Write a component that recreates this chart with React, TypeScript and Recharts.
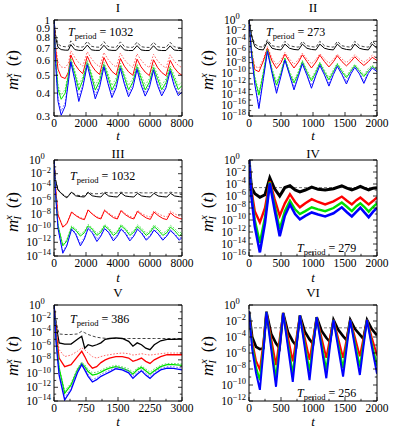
import React from 'react';
import { LineChart, Line, XAxis, YAxis, ReferenceLine } from 'recharts';

const FONT = '"Liberation Serif", "DejaVu Serif", "Times New Roman", serif';

// ---------------- Panel I (T_period = 1032) ----------------
const timeI = [0, 100, 250, 450, 700, 900, 1050, 1300, 1550, 1800, 2080, 2330, 2580, 2850, 3120, 3370, 3620, 3890, 4150, 4400, 4660, 4930, 5190, 5440, 5700, 5960, 6220, 6470, 6730, 7000, 7260, 7510, 7770, 8000];
const blackSolidI = [1.0, 0.8, 0.71, 0.69, 0.685, 0.685, 0.735, 0.69, 0.683, 0.683, 0.73, 0.688, 0.683, 0.683, 0.728, 0.688, 0.683, 0.683, 0.726, 0.687, 0.682, 0.682, 0.725, 0.687, 0.682, 0.682, 0.724, 0.686, 0.682, 0.682, 0.723, 0.686, 0.682, 0.682];
const blackDashI = [1.0, 0.83, 0.74, 0.72, 0.715, 0.715, 0.77, 0.722, 0.713, 0.712, 0.765, 0.72, 0.712, 0.711, 0.762, 0.718, 0.711, 0.71, 0.76, 0.717, 0.71, 0.71, 0.758, 0.716, 0.71, 0.709, 0.757, 0.716, 0.709, 0.709, 0.756, 0.715, 0.709, 0.709];
const redSolidI = [1.0, 0.7, 0.54, 0.49, 0.48, 0.52, 0.645, 0.575, 0.535, 0.51, 0.635, 0.57, 0.53, 0.505, 0.625, 0.565, 0.525, 0.502, 0.617, 0.56, 0.522, 0.5, 0.612, 0.556, 0.52, 0.498, 0.607, 0.552, 0.518, 0.497, 0.603, 0.55, 0.516, 0.5];
const redDotI = [1.0, 0.73, 0.59, 0.555, 0.55, 0.58, 0.68, 0.625, 0.585, 0.56, 0.672, 0.618, 0.58, 0.556, 0.665, 0.612, 0.576, 0.553, 0.66, 0.608, 0.573, 0.551, 0.655, 0.605, 0.57, 0.55, 0.65, 0.6, 0.568, 0.548, 0.646, 0.598, 0.566, 0.55];
const greenSolidI = [1.0, 0.62, 0.42, 0.37, 0.4, 0.5, 0.6, 0.51, 0.415, 0.47, 0.585, 0.5, 0.415, 0.465, 0.572, 0.492, 0.415, 0.462, 0.563, 0.487, 0.416, 0.46, 0.556, 0.483, 0.416, 0.458, 0.55, 0.48, 0.417, 0.457, 0.546, 0.478, 0.418, 0.44];
const greenDotI = [1.0, 0.64, 0.44, 0.39, 0.42, 0.52, 0.62, 0.53, 0.44, 0.49, 0.603, 0.52, 0.44, 0.487, 0.59, 0.513, 0.44, 0.484, 0.582, 0.508, 0.44, 0.482, 0.575, 0.505, 0.44, 0.48, 0.57, 0.502, 0.44, 0.479, 0.565, 0.5, 0.44, 0.46];
const blueSolidI = [1.0, 0.58, 0.36, 0.303, 0.34, 0.46, 0.59, 0.47, 0.36, 0.43, 0.57, 0.46, 0.372, 0.43, 0.555, 0.452, 0.378, 0.428, 0.545, 0.447, 0.382, 0.428, 0.538, 0.443, 0.385, 0.428, 0.532, 0.44, 0.386, 0.427, 0.527, 0.438, 0.387, 0.405];
const blueDotI = [1.0, 0.6, 0.38, 0.32, 0.355, 0.475, 0.6, 0.485, 0.38, 0.445, 0.58, 0.475, 0.39, 0.445, 0.566, 0.467, 0.395, 0.444, 0.556, 0.462, 0.398, 0.443, 0.549, 0.458, 0.4, 0.442, 0.543, 0.455, 0.4, 0.441, 0.538, 0.453, 0.401, 0.42];

// ---------------- Panel II (T_period = 273) ----------------
const timeII = [0, 40, 90, 155, 225, 288, 360, 430, 500, 561, 633, 703, 773, 834, 906, 976, 1046, 1107, 1179, 1249, 1319, 1380, 1452, 1522, 1592, 1653, 1725, 1795, 1865, 1926, 2000];
const blackSolidII = [1, 1e-3, 1e-5, 3e-6, 2.5e-6, 8e-5, 5e-6, 3e-6, 2.5e-6, 3e-5, 5e-6, 3e-6, 2.5e-6, 3e-5, 5e-6, 3e-6, 2.5e-6, 3e-5, 5e-6, 3e-6, 2.5e-6, 3e-5, 5e-6, 3e-6, 2.5e-6, 3e-5, 5e-6, 3e-6, 2.5e-6, 3e-5, 5e-6];
const blackDashII = [1, 2e-3, 3e-5, 1e-5, 8e-6, 2e-4, 1.5e-5, 1e-5, 8e-6, 1e-4, 1.5e-5, 1e-5, 8e-6, 1e-4, 1.5e-5, 1e-5, 8e-6, 1e-4, 1.5e-5, 1e-5, 8e-6, 1e-4, 1.5e-5, 1e-5, 8e-6, 1e-4, 1.5e-5, 1e-5, 8e-6, 1e-4, 1.5e-5];
const redSolidII = [1, 1e-6, 5e-10, 2e-10, 2e-8, 5e-6, 2e-8, 8e-10, 1e-8, 4e-7, 1.6e-8, 1e-9, 1.3e-8, 3e-7, 1.6e-8, 1e-9, 1.3e-8, 2.5e-7, 1.6e-8, 1.6e-9, 1.5e-8, 2e-7, 1.6e-8, 2.5e-9, 1.6e-8, 1.3e-7, 1.6e-8, 3e-9, 1.6e-8, 1e-7, 2.5e-8];
const redDotII = [1, 3e-6, 2e-9, 1e-9, 5e-8, 1e-5, 6e-8, 4e-9, 3e-8, 8e-7, 5e-8, 5e-9, 4e-8, 6e-7, 5e-8, 6e-9, 4e-8, 5e-7, 5e-8, 8e-9, 4e-8, 4e-7, 5e-8, 1e-8, 5e-8, 3e-7, 5e-8, 1.2e-8, 5e-8, 2.5e-7, 8e-8];
const greenSolidII = [1, 1e-6, 1e-11, 8e-15, 1e-10, 2.5e-6, 3e-10, 6e-13, 1e-10, 6e-8, 1e-10, 1.6e-12, 1e-10, 1.6e-8, 1.6e-10, 4e-12, 1.6e-10, 8e-9, 1.6e-10, 6e-12, 2e-10, 5e-9, 2e-10, 1.6e-11, 2.5e-10, 3e-9, 2.5e-10, 2.5e-11, 3e-10, 2e-9, 4e-10];
const greenDotII = [1, 3e-6, 3e-11, 2.5e-14, 2.5e-10, 4e-6, 8e-10, 2.5e-12, 2.5e-10, 1e-7, 2.5e-10, 5e-12, 2.5e-10, 2.5e-8, 4e-10, 1e-11, 4e-10, 1.3e-8, 4e-10, 1.6e-11, 5e-10, 8e-9, 5e-10, 3e-11, 6e-10, 5e-9, 6e-10, 5e-11, 8e-10, 3e-9, 1e-9];
const blueSolidII = [1, 3e-7, 1e-12, 2.5e-17, 1e-11, 1.3e-6, 1e-10, 1.8e-14, 3e-11, 3e-8, 5e-11, 8e-14, 3e-11, 6e-9, 4e-11, 1.6e-13, 4e-11, 3e-9, 5e-11, 4e-13, 6e-11, 2e-9, 6e-11, 1e-12, 8e-11, 1.3e-9, 8e-11, 1.3e-12, 1e-10, 1e-9, 2e-10];
const blueDotII = [1, 6e-7, 3e-12, 8e-17, 3e-11, 2e-6, 2e-10, 6e-14, 8e-11, 5e-8, 1e-10, 2.5e-13, 8e-11, 1e-8, 1e-10, 5e-13, 1e-10, 5e-9, 1.3e-10, 1e-12, 1.5e-10, 3e-9, 1.5e-10, 2.5e-12, 2e-10, 2e-9, 2e-10, 3e-12, 2.5e-10, 1.6e-9, 4e-10];

// ---------------- Panel III (T_period = 1032) ----------------
const timeIII = [0, 100, 250, 550, 800, 1100, 1350, 1650, 1900, 2130, 2390, 2680, 2930, 3160, 3420, 3710, 3960, 4190, 4450, 4740, 4990, 5220, 5480, 5770, 6020, 6250, 6510, 6800, 7050, 7280, 7540, 7830, 8000];
const blackSolidIII = [1, 1e-3, 4e-5, 8e-6, 3e-6, 2e-5, 6e-6, 4.5e-6, 4e-6, 1.8e-5, 6e-6, 4.5e-6, 4e-6, 1.6e-5, 5.6e-6, 4.5e-6, 4e-6, 1.6e-5, 5.6e-6, 4.5e-6, 4e-6, 1.4e-5, 5.6e-6, 4.5e-6, 4e-6, 1.4e-5, 5.6e-6, 4.5e-6, 4e-6, 1.4e-5, 5.6e-6, 4.5e-6, 4e-6];
const blackDashIII = [1, 1.2e-3, 5e-5, 1e-5, 4e-6, 2.2e-5, 8e-6, 6e-6, 6e-6, 2.2e-5, 1.2e-5, 1.2e-5, 1.3e-5, 2e-5, 1.6e-5, 1.6e-5, 1.6e-5, 2e-5, 1.6e-5, 1.6e-5, 1.6e-5, 2e-5, 1.6e-5, 1.6e-5, 1.6e-5, 2e-5, 1.6e-5, 1.6e-5, 1.6e-5, 2e-5, 1.6e-5, 1.6e-5, 1.6e-5];
const redSolidIII = [1, 1e-4, 1e-8, 1.6e-10, 5e-10, 2.5e-8, 8e-9, 3e-9, 2e-9, 5e-8, 1.3e-8, 4e-9, 2.5e-9, 4.5e-8, 1.3e-8, 4e-9, 2.5e-9, 4e-8, 1.1e-8, 4e-9, 2.5e-9, 3.2e-8, 1e-8, 3.5e-9, 2.2e-9, 2.5e-8, 8e-9, 3e-9, 2e-9, 2e-8, 6e-9, 3e-9, 2.5e-9];
const redDotIII = [1, 1.2e-4, 1.2e-8, 2e-10, 6e-10, 3e-8, 1e-8, 4e-9, 2.5e-9, 6e-8, 1.6e-8, 5e-9, 3.5e-9, 5.5e-8, 1.8e-8, 6e-9, 4e-9, 5e-8, 1.6e-8, 6e-9, 4e-9, 4.5e-8, 1.6e-8, 7e-9, 5e-9, 4e-8, 1.5e-8, 7e-9, 5e-9, 3.5e-8, 1.4e-8, 7e-9, 6e-9];
const greenSolidIII = [1, 1e-5, 3e-10, 3e-13, 1.6e-12, 1.6e-10, 6e-11, 8e-12, 2.5e-11, 2.5e-10, 8e-11, 1e-11, 3e-11, 2.5e-10, 8e-11, 1e-11, 3e-11, 2.5e-10, 8e-11, 1e-11, 3e-11, 2e-10, 6e-11, 1e-11, 3e-11, 2e-10, 6e-11, 1e-11, 2.5e-11, 1.6e-10, 5e-11, 8e-12, 2e-11];
const greenDotIII = [1, 1.2e-5, 4e-10, 4e-13, 2.5e-12, 2.5e-10, 1e-10, 1.6e-11, 4e-11, 4e-10, 1.3e-10, 2e-11, 5e-11, 4e-10, 1.3e-10, 2e-11, 5e-11, 4e-10, 1.3e-10, 2e-11, 5e-11, 3.5e-10, 1.2e-10, 2e-11, 5e-11, 3.5e-10, 1.2e-10, 2e-11, 5e-11, 3e-10, 1e-10, 2e-11, 4e-11];
const blueSolidIII = [1, 1e-5, 1e-10, 2.5e-14, 3e-13, 8e-11, 1.6e-11, 3e-13, 3e-12, 1e-10, 2.5e-11, 1.3e-12, 8e-12, 1e-10, 2.5e-11, 1.6e-12, 8e-12, 8e-11, 2e-11, 1.6e-12, 8e-12, 8e-11, 2e-11, 2e-12, 8e-12, 6e-11, 1.6e-11, 2e-12, 8e-12, 5e-11, 1.3e-11, 2e-12, 5e-12];
const blueDotIII = [1, 1.2e-5, 1.3e-10, 4e-14, 5e-13, 1.2e-10, 2.5e-11, 6e-13, 5e-12, 1.5e-10, 4e-11, 3e-12, 1.3e-11, 1.5e-10, 4e-11, 3e-12, 1.3e-11, 1.3e-10, 3e-11, 3e-12, 1.3e-11, 1.2e-10, 3e-11, 3e-12, 1.2e-11, 1e-10, 2.5e-11, 3e-12, 1.2e-11, 8e-11, 2e-11, 3e-12, 8e-12];

// ---------------- Panel IV (T_period = 279) ----------------
const timeIV = [0, 37, 90, 170, 250, 325, 400, 480, 560, 640, 720, 795, 880, 980, 1080, 1190, 1320, 1450, 1530, 1607, 1680, 1740, 1800, 1870, 1940, 2000];
const blackIV = [1, 3e-5, 2.5e-6, 6e-7, 1.6e-6, 1e-3, 1.6e-5, 1e-6, 2.5e-5, 5e-5, 1e-5, 5e-6, 1e-5, 3e-5, 1.3e-5, 1e-5, 1.6e-5, 5e-5, 2e-5, 1e-5, 2e-5, 4e-5, 2e-5, 1e-5, 2e-5, 2.5e-5];
const redIV = [1, 1e-5, 3e-9, 4e-11, 1e-8, 3e-4, 3e-7, 5e-10, 6e-8, 2e-6, 1e-7, 1.3e-8, 6e-8, 3e-7, 1e-7, 4e-8, 1.3e-7, 8e-7, 1.6e-7, 4e-8, 2e-7, 5.6e-7, 1.6e-7, 4e-8, 1.6e-7, 6e-7];
const greenIV = [1, 3e-6, 1e-10, 1.6e-14, 3e-10, 2e-4, 3e-8, 3e-12, 3e-9, 1.6e-7, 6e-9, 1e-9, 3e-9, 1.3e-8, 6e-9, 3e-9, 1e-8, 8e-8, 1.6e-8, 3e-9, 2e-8, 6e-8, 1.6e-8, 2.5e-9, 1.6e-8, 6e-8];
const blueIV = [1, 1e-6, 1e-11, 4e-16, 3e-11, 1.3e-4, 5e-9, 2e-13, 5e-10, 4e-8, 1e-9, 1.3e-10, 5e-10, 1.8e-9, 8e-10, 4e-10, 1.3e-9, 1.3e-8, 2e-9, 4e-10, 2.5e-9, 1.1e-8, 2e-9, 3e-10, 2.5e-9, 1e-8];
const levelIV = 2.5e-5;

// ---------------- Panel V (T_period = 386) ----------------
const timeV = [0, 50, 120, 250, 400, 550, 650, 720, 800, 900, 1000, 1100, 1200, 1300, 1450, 1600, 1750, 1850, 1950, 2050, 2150, 2250, 2350, 2500, 2650, 2800, 3000];
const blackSolidV = [1, 1e-3, 3e-6, 2e-6, 2e-6, 1e-5, 2.8e-5, 5e-7, 1.6e-6, 1e-6, 1.6e-6, 3e-6, 1e-5, 1.3e-5, 1.6e-5, 1.3e-5, 5e-6, 1e-6, 3e-6, 1.6e-6, 5e-7, 3e-7, 1.6e-6, 6e-6, 1e-5, 1e-5, 1.1e-5];
const blackDashV = [1, 3e-3, 6e-5, 5e-5, 5e-5, 6e-5, 1.5e-4, 9e-5, 5e-5, 3e-5, 2e-5, 1.6e-5, 1.4e-5, 1.3e-5, 1.3e-5, 1.3e-5, 1.3e-5, 1.3e-5, 1.3e-5, 1.3e-5, 1.3e-5, 1.3e-5, 1.3e-5, 1.3e-5, 1.3e-5, 1.3e-5, 1.3e-5];
const redSolidV = [1, 1e-4, 1.8e-8, 1e-9, 2e-9, 3e-8, 1.8e-7, 3e-8, 3e-9, 6e-10, 1e-9, 4e-9, 1e-8, 1.8e-8, 3e-8, 3e-8, 1.8e-8, 6e-9, 1e-8, 1.8e-8, 6e-9, 3e-9, 1e-8, 3e-8, 5.6e-8, 5.6e-8, 5.6e-8];
const redDotV = [1, 3e-4, 3e-7, 3e-8, 5e-8, 1.8e-7, 5.6e-7, 3e-7, 1e-7, 3e-8, 1.8e-8, 3e-8, 4.5e-8, 5.6e-8, 8e-8, 1e-7, 8e-8, 5e-8, 6e-8, 8e-8, 6e-8, 5e-8, 6e-8, 8e-8, 1e-7, 1e-7, 1e-7];
const greenSolidV = [1, 1e-5, 6e-10, 1.3e-13, 2.2e-12, 3.5e-10, 3e-9, 1e-9, 2e-10, 6e-11, 8e-11, 1.6e-10, 3.5e-10, 6e-10, 1e-9, 6e-10, 2.5e-10, 8e-11, 3.5e-10, 8e-10, 2.5e-10, 8e-11, 2.5e-10, 1e-9, 2e-9, 2e-9, 1.6e-9];
const greenDotV = [1, 1.2e-5, 8e-10, 3e-13, 4e-12, 6e-10, 5e-9, 2e-9, 4e-10, 1.3e-10, 1.6e-10, 3e-10, 6e-10, 1e-9, 1.6e-9, 1e-9, 5e-10, 1.6e-10, 6e-10, 1.3e-9, 5e-10, 1.6e-10, 5e-10, 1.6e-9, 3e-9, 3e-9, 2.5e-9];
const blueSolidV = [1, 3e-6, 6e-11, 1.4e-14, 4e-13, 1.3e-10, 2e-9, 3.5e-10, 4e-11, 6e-12, 1.3e-11, 4e-11, 8e-11, 1.6e-10, 5e-10, 3.5e-10, 1.3e-10, 2e-11, 8e-11, 2.5e-10, 6e-11, 2e-11, 8e-11, 3.5e-10, 6e-10, 5.6e-10, 3.5e-10];
const blueDotV = [1, 4e-6, 1e-10, 3e-14, 8e-13, 2.5e-10, 3e-9, 6e-10, 8e-11, 1.3e-11, 2.5e-11, 8e-11, 1.5e-10, 3e-10, 8e-10, 6e-10, 2.5e-10, 4e-11, 1.5e-10, 4e-10, 1.2e-10, 4e-11, 1.5e-10, 6e-10, 1e-9, 1e-9, 6e-10];

// ---------------- Panel VI (T_period = 256) ----------------
const timeVI = [0, 50, 110, 170, 225, 272, 347, 422, 477, 534, 609, 684, 739, 796, 871, 946, 1001, 1058, 1133, 1208, 1263, 1320, 1395, 1470, 1525, 1582, 1657, 1732, 1787, 1844, 1919, 2000];
const blackVI = [0.16, 1e-4, 6e-6, 3e-6, 4e-6, 0.14, 2.5e-4, 1.6e-5, 4e-6, 0.1, 4e-4, 3e-5, 8e-6, 0.05, 5e-4, 5e-5, 1.4e-5, 0.03, 6e-4, 8e-5, 2.5e-5, 0.014, 8e-4, 1.3e-4, 4e-5, 0.014, 1e-3, 2e-4, 6e-5, 0.014, 1e-3, 1.6e-4];
const redVI = [0.16, 3e-5, 1e-7, 8e-9, 2.5e-5, 0.14, 6e-5, 3e-8, 5e-5, 0.1, 1e-4, 9e-8, 6e-5, 0.05, 8e-5, 1.4e-7, 6e-5, 0.03, 8e-5, 2.5e-7, 6e-5, 0.014, 6e-5, 2.5e-7, 5e-5, 0.014, 8e-5, 4e-7, 6e-5, 0.014, 8e-5, 5e-7];
const greenVI = [0.16, 1e-5, 1.6e-8, 4e-10, 6e-6, 0.14, 1e-5, 7e-10, 1e-5, 0.1, 1.6e-5, 2.5e-9, 1.3e-5, 0.05, 1.6e-5, 5e-9, 1.6e-5, 0.03, 1.6e-5, 8e-9, 1.3e-5, 0.014, 1.3e-5, 1.3e-8, 1.3e-5, 0.014, 1.6e-5, 2e-8, 1.6e-5, 0.014, 1.6e-5, 2.5e-8];
const blueVI = [0.16, 3e-6, 3e-9, 2.5e-11, 1.6e-6, 0.14, 3e-6, 6e-11, 2.5e-6, 0.1, 5e-6, 2.5e-10, 5e-6, 0.05, 5e-6, 4e-10, 5e-6, 0.03, 5e-6, 7e-10, 5e-6, 0.014, 4e-6, 1.1e-9, 4e-6, 0.014, 5e-6, 1.8e-9, 5e-6, 0.014, 6e-6, 2.5e-9];
const levelVI = 1.4e-3;

// ---------------- Axis ticks ----------------
const xTicks8000 = [0, 1000, 2000, 3000, 4000, 5000, 6000, 7000, 8000];
const xTicks2000 = [0, 250, 500, 750, 1000, 1250, 1500, 1750, 2000];
const xTicks3000 = [0, 375, 750, 1125, 1500, 1875, 2250, 2625, 3000];
const yTicksI = [0.3, 0.4, 0.5, 0.6, 0.7, 0.8, 0.9, 1];
const yTicks18 = [1, 1e-1, 1e-2, 1e-3, 1e-4, 1e-5, 1e-6, 1e-7, 1e-8, 1e-9, 1e-10, 1e-11, 1e-12, 1e-13, 1e-14, 1e-15, 1e-16, 1e-17, 1e-18];
const yTicks16 = yTicks18.slice(0, 17);
const yTicks14 = yTicks18.slice(0, 15);
const yTicks12 = yTicks18.slice(0, 13);

const BLACK = '#000000';
const RED = '#ff0000';
const GREEN = '#00e000';
const BLUE = '#0000ff';
const RED_L = '#ff6a6a';
const GREEN_L = '#5ee05e';
const BLUE_L = '#6a6aff';
const BLACK_L = '#444444';

type S = { key: string; data: number[]; color: string; dash?: string; width?: number };
type PanelSpec = {
  left: number; top: number; time: number[];
  xDomain: [number, number]; xTicks: number[]; xMajor: number;
  yDomain: [number, number]; yTicks: number[]; decimal: boolean;
  series: S[]; level?: number;
};

const DOT = '1.6 1.6';
const DASH = '3 2';

const panels: PanelSpec[] = [
  {
    left: 0, top: 0, time: timeI, xDomain: [0, 8000], xTicks: xTicks8000, xMajor: 2000,
    yDomain: [0.3, 1], yTicks: yTicksI, decimal: true,
    series: [
      { key: 'bd', data: blackDashI, color: BLACK_L, dash: DASH },
      { key: 'bs', data: blackSolidI, color: BLACK },
      { key: 'rd', data: redDotI, color: RED_L, dash: DOT },
      { key: 'rs', data: redSolidI, color: RED },
      { key: 'gd', data: greenDotI, color: GREEN_L, dash: DOT },
      { key: 'gs', data: greenSolidI, color: GREEN },
      { key: 'ld', data: blueDotI, color: BLUE_L, dash: DOT },
      { key: 'ls', data: blueSolidI, color: BLUE },
    ],
  },
  {
    left: 195, top: 0, time: timeII, xDomain: [0, 2000], xTicks: xTicks2000, xMajor: 500,
    yDomain: [1e-18, 1], yTicks: yTicks18, decimal: false,
    series: [
      { key: 'bd', data: blackDashII, color: BLACK_L, dash: DASH },
      { key: 'bs', data: blackSolidII, color: BLACK },
      { key: 'rd', data: redDotII, color: RED_L, dash: DOT },
      { key: 'rs', data: redSolidII, color: RED },
      { key: 'gd', data: greenDotII, color: GREEN_L, dash: DOT },
      { key: 'gs', data: greenSolidII, color: GREEN },
      { key: 'ld', data: blueDotII, color: BLUE_L, dash: DOT },
      { key: 'ls', data: blueSolidII, color: BLUE },
    ],
  },
  {
    left: 0, top: 140, time: timeIII, xDomain: [0, 8000], xTicks: xTicks8000, xMajor: 2000,
    yDomain: [1e-14, 1], yTicks: yTicks14, decimal: false,
    series: [
      { key: 'bd', data: blackDashIII, color: BLACK_L, dash: DASH },
      { key: 'bs', data: blackSolidIII, color: BLACK },
      { key: 'rd', data: redDotIII, color: RED_L, dash: DOT },
      { key: 'rs', data: redSolidIII, color: RED },
      { key: 'gd', data: greenDotIII, color: GREEN_L, dash: DOT },
      { key: 'gs', data: greenSolidIII, color: GREEN },
      { key: 'ld', data: blueDotIII, color: BLUE_L, dash: DOT },
      { key: 'ls', data: blueSolidIII, color: BLUE },
    ],
  },
  {
    left: 195, top: 140, time: timeIV, xDomain: [0, 2000], xTicks: xTicks2000, xMajor: 500,
    yDomain: [1e-16, 1], yTicks: yTicks16, decimal: false, level: levelIV,
    series: [
      { key: 'bs', data: blackIV, color: BLACK, width: 3 },
      { key: 'rs', data: redIV, color: RED, width: 2.4 },
      { key: 'gs', data: greenIV, color: GREEN, width: 2.4 },
      { key: 'ls', data: blueIV, color: BLUE, width: 2.6 },
    ],
  },
  {
    left: 0, top: 285, time: timeV, xDomain: [0, 3000], xTicks: xTicks3000, xMajor: 750,
    yDomain: [1e-14, 1], yTicks: yTicks14, decimal: false,
    series: [
      { key: 'bd', data: blackDashV, color: BLACK_L, dash: DASH },
      { key: 'bs', data: blackSolidV, color: BLACK, width: 1.3 },
      { key: 'rd', data: redDotV, color: RED_L, dash: DOT },
      { key: 'rs', data: redSolidV, color: RED, width: 1.3 },
      { key: 'gd', data: greenDotV, color: GREEN_L, dash: DOT },
      { key: 'gs', data: greenSolidV, color: GREEN, width: 1.3 },
      { key: 'ld', data: blueDotV, color: BLUE_L, dash: DOT },
      { key: 'ls', data: blueSolidV, color: BLUE, width: 1.3 },
    ],
  },
  {
    left: 195, top: 285, time: timeVI, xDomain: [0, 2000], xTicks: xTicks2000, xMajor: 500,
    yDomain: [1e-12, 1], yTicks: yTicks12, decimal: false, level: levelVI,
    series: [
      { key: 'bs', data: blackVI, color: BLACK, width: 2.6 },
      { key: 'rs', data: redVI, color: RED, width: 2 },
      { key: 'gs', data: greenVI, color: GREEN, width: 2 },
      { key: 'ls', data: blueVI, color: BLUE, width: 2 },
    ],
  },
];

const MAJOR = 4;
const MINOR = 2.2;

function expOf(v: number) {
  return Math.round(Math.log10(v));
}

function Panel({ p }: { p: PanelSpec }) {
  const rows = p.time.map((t, i) => {
    const r: Record<string, number> = { t };
    p.series.forEach((s) => { r[s.key] = s.data[i]; });
    return r;
  });
  const xMajor = (v: number) => v % p.xMajor === 0;
  const yMajor = (v: number) => (p.decimal ? true : expOf(v) % 2 === 0);

  const bottomTick = (props: any) => {
    const { x, y, payload } = props;
    const v = payload.value;
    const m = xMajor(v);
    return (
      <g>
        <line x1={x} x2={x} y1={y} y2={y - (m ? MAJOR : MINOR)} stroke="#000" strokeWidth={0.8} />
        {m && (
          <text x={x} y={y + 11} textAnchor="middle" fontSize={11.5} fontFamily={FONT} fill="#000">{v}</text>
        )}
      </g>
    );
  };
  const topTick = (props: any) => {
    const { x, y, payload } = props;
    const m = xMajor(payload.value);
    return <line x1={x} x2={x} y1={y} y2={y + (m ? MAJOR : MINOR)} stroke="#000" strokeWidth={0.8} />;
  };
  const leftTick = (props: any) => {
    const { x, y, payload } = props;
    const v = payload.value;
    const m = yMajor(v);
    let label: React.ReactNode = null;
    if (m) {
      if (p.decimal) {
        label = (
          <text x={x - 4} y={y + 3.5} textAnchor="end" fontSize={11} fontFamily={FONT} fill="#000">{String(v)}</text>
        );
      } else {
        const e = expOf(v);
        if (e === 0) {
          label = (
            <text x={x - 25} y={y + 3.5} textAnchor="start" fontSize={11.5} fontFamily={FONT} fill="#000">
              10<tspan dy={-4.5} fontSize={8.5}>0</tspan>
            </text>
          );
        } else {
          label = (
            <text x={x - 3} y={y + 3.5} textAnchor="end" fontSize={11.5} fontFamily={FONT} fill="#000">
              10<tspan dy={-4.5} fontSize={8.5}>{'\u2212' + Math.abs(e)}</tspan>
            </text>
          );
        }
      }
    }
    return (
      <g>
        <line x1={x} x2={x + (m ? MAJOR : MINOR)} y1={y} y2={y} stroke="#000" strokeWidth={0.8} />
        {label}
      </g>
    );
  };
  const rightTick = (props: any) => {
    const { x, y, payload } = props;
    const m = yMajor(payload.value);
    return <line x1={x} x2={x - (m ? MAJOR : MINOR)} y1={y} y2={y} stroke="#000" strokeWidth={0.8} />;
  };

  const axisLine = { stroke: '#000', strokeWidth: 1 };

  return (
    <div style={{ position: 'absolute', left: p.left, top: p.top }}>
      <LineChart width={197} height={143} data={rows} margin={{ top: 19, right: 14, bottom: 26, left: 0 }}>
        <XAxis dataKey="t" type="number" domain={p.xDomain} ticks={p.xTicks} interval={0}
          tickLine={false} tickSize={0} tickMargin={0} height={1} axisLine={axisLine}
          tick={bottomTick} allowDataOverflow />
        <XAxis xAxisId="top" orientation="top" type="number" domain={p.xDomain} ticks={p.xTicks} interval={0}
          tickLine={false} tickSize={0} tickMargin={0} height={1} axisLine={axisLine}
          tick={topTick} allowDataOverflow />
        <YAxis type="number" scale="log" domain={p.yDomain} ticks={p.yTicks} interval={0}
          tickLine={false} tickSize={0} tickMargin={0} width={54} axisLine={axisLine}
          tick={leftTick} allowDataOverflow />
        <YAxis yAxisId="right" orientation="right" type="number" scale="log" domain={p.yDomain} ticks={p.yTicks} interval={0}
          tickLine={false} tickSize={0} tickMargin={0} width={1} axisLine={axisLine}
          tick={rightTick} allowDataOverflow />
        {p.level !== undefined && (
          <ReferenceLine y={p.level} stroke="#555555" strokeDasharray="3 2" strokeWidth={0.8} ifOverflow="hidden" />
        )}
        {p.series.map((s) => (
          <Line key={s.key} type="linear" dataKey={s.key} stroke={s.color} strokeWidth={s.width ?? 1}
            strokeDasharray={s.dash} dot={false} activeDot={false} isAnimationActive={false} />
        ))}
      </LineChart>
    </div>
  );
}

const titles = ['I', 'II', 'III', 'IV', 'V', 'VI'];
const periods = ['1032', '273', '1032', '279', '386', '256'];

const colX = [118, 313];
const titleY = [12, 158, 297];
const yLabelY = [70, 212, 356];
const yLabelX = [12, 207];
const tLabelY = [140, 282, 426];
const periodPos: [number, number][] = [[68, 36], [266, 36], [70, 180], [297, 252], [70, 323], [297, 397]];

function YLabel({ cx, cy }: { cx: number; cy: number }) {
  return (
    <text transform={`rotate(-90 ${cx} ${cy})`} x={cx} y={cy + 6} textAnchor="middle" fontFamily={FONT} fontSize={17} fill="#000">
      <tspan fontStyle="italic">m</tspan>
      <tspan fontStyle="italic" fontSize={11} dy={3}>I</tspan>
      <tspan fontStyle="italic" fontSize={11} dx={-4} dy={-9}>x</tspan>
      <tspan dx={7} dy={6}>(</tspan>
      <tspan fontStyle="italic">t</tspan>
      <tspan>)</tspan>
    </text>
  );
}

export default function App() {
  return (
    <div style={{ position: 'absolute', left: 0, top: 0, width: 395, height: 430, background: '#fff', overflow: 'hidden' }}>
      {panels.map((p, i) => <Panel key={i} p={p} />)}
      <svg width={395} height={430} style={{ position: 'absolute', left: 0, top: 0, pointerEvents: 'none' }}>
        {titles.map((t, i) => (
          <text key={'ti' + i} x={colX[i % 2]} y={titleY[Math.floor(i / 2)]} textAnchor="middle" fontFamily={FONT} fontSize={13} fill="#000">{t}</text>
        ))}
        {titles.map((t, i) => (
          <YLabel key={'yl' + i} cx={yLabelX[i % 2]} cy={yLabelY[Math.floor(i / 2)]} />
        ))}
        {titles.map((t, i) => (
          <text key={'tl' + i} x={colX[i % 2]} y={tLabelY[Math.floor(i / 2)]} textAnchor="middle" fontFamily={FONT} fontSize={13} fontStyle="italic" fill="#000">t</text>
        ))}
        {periods.map((v, i) => (
          <text key={'pe' + i} x={periodPos[i][0]} y={periodPos[i][1]} fontFamily={FONT} fontSize={12} fill="#000">
            <tspan fontStyle="italic">T</tspan>
            <tspan fontSize={8.5} dy={3}>period</tspan>
            <tspan dy={-3}>{' = ' + v}</tspan>
          </text>
        ))}
      </svg>
    </div>
  );
}
